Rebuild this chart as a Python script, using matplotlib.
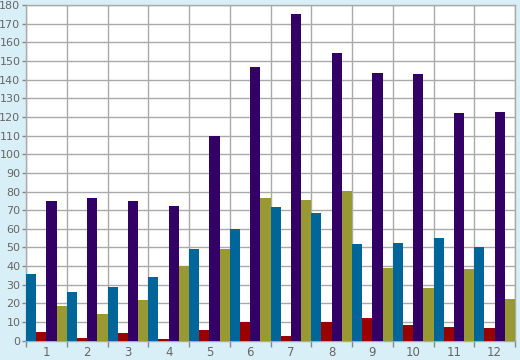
import numpy as np
import matplotlib
matplotlib.use('Agg')
import matplotlib.pyplot as plt

# Data
groups = ['1', '2', '3', '4', '5', '6', '7', '8', '9', '10', '11', '12']
blue = [36, 26, 29, 34, 49, 60, 71.5, 68.5, 52, 52.5, 55, 50.5]
red = [4.5, 1.4, 4, 0.9, 5.7, 10, 2.5, 10, 12, 8.4, 7.3, 6.8]
purple = [75, 76.5, 75, 72, 110, 147, 175, 154, 143.5, 143, 122, 122.5]
olive = [18.5, 14.5, 22, 40, 49, 76.5, 75.5, 80.5, 39, 28, 38.5, 22.5]

series = [blue, red, purple, olive]
colors = ['#006699', '#990000', '#330066', '#999933']

fig = plt.figure(figsize=(5.2, 3.6), dpi=100, facecolor='#d9eff7')
ax = fig.add_axes([26 / 520, 19.3 / 360, 489 / 520, 335.7 / 360])
ax.set_facecolor('white')

x = np.arange(len(groups))
w = 0.25
for i, (vals, c) in enumerate(zip(series, colors)):
    ax.bar(x - 0.5 + w * (i + 0.5), vals, width=w, color=c, linewidth=0, zorder=3)

ax.set_xlim(-0.5, len(groups) - 0.5)
ax.set_ylim(0, 180)
ax.set_yticks(range(0, 181, 10))
ax.set_xticks(x)
ax.set_xticklabels(groups)
ax.set_xticks(np.arange(-0.5, len(groups) + 0.5, 1), minor=True)

ax.grid(True, which='major', axis='y', color='#aaaaaa', linewidth=1, zorder=0)
ax.grid(True, which='minor', axis='x', color='#aaaaaa', linewidth=1, zorder=0)

ax.tick_params(axis='x', which='major', length=0, pad=4, labelsize=8.5, labelcolor='#666666')
ax.tick_params(axis='x', which='minor', length=4, color='#888888', width=1)
ax.tick_params(axis='y', length=3, color='#888888', width=1, pad=1, labelsize=8, labelcolor='#666666')

for s in ax.spines.values():
    s.set_color('#aaaaaa')
    s.set_linewidth(1)

fig.savefig('out.png', dpi=100, facecolor=fig.get_facecolor())
